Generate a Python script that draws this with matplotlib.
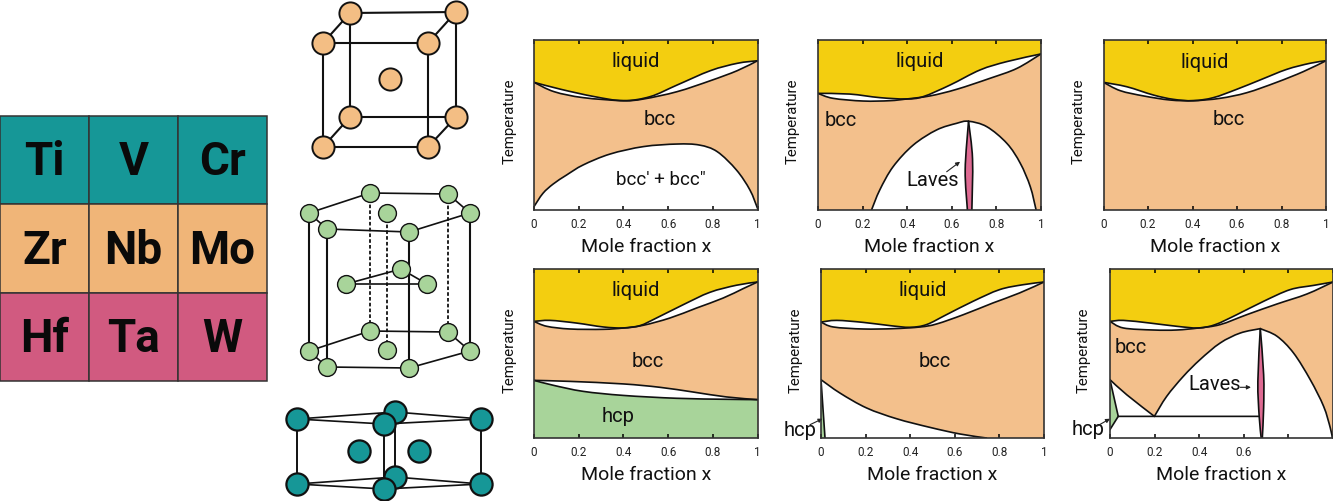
import numpy as np
import matplotlib
matplotlib.use("Agg")
import matplotlib.pyplot as plt
from matplotlib.path import Path
from matplotlib.patches import PathPatch, Rectangle

plt.rcParams['font.family'] = ['Roboto', 'DejaVu Sans']

W, H = 1333, 501
YELLOW = "#F3CE10"
PEACH = "#F3C08C"
GREEN = "#A8D49A"
PINK = "#DE6A92"
TEAL = "#169797"
INK = "#111111"

# periodic table block
elements = [["Ti", "V", "Cr"], ["Zr", "Nb", "Mo"], ["Hf", "Ta", "W"]]
row_colors = ["#169797", "#F0B578", "#D15A80"]

# crystal sketches, picture pixels
bcc_back = [(350, 13), (456, 12), (350, 117), (456, 117)]
bcc_front = [(323, 43), (428, 43), (323, 147), (428, 147)]
bcc_centre = (390, 79)

hcp_top = [(309, 213), (327, 229), (409, 232), (470, 213), (448, 194), (370, 193)]
hcp_bottom = [(309, 351), (327, 367), (409, 368), (470, 351), (448, 332), (370, 331)]
hcp_mid = [(346, 284), (427, 284), (401, 269)]
hcp_inner = [(387, 213), (387, 350)]

teal_top = [(297, 419), (481, 419), (395, 412), (384, 424)]
teal_bottom = [(297, 484), (481, 484), (395, 477), (384, 489)]
teal_inner = [(359, 451), (419, 451)]

tick_vals = [0, 0.2, 0.4, 0.6, 0.8, 1]
tick_text = ["0", "0.2", "0.4", "0.6", "0.8", "1"]
tick_text_last = ["0", "0.2", "0.4", "0.6", "", ""]

# panel 1
liq1_x = [0, .12, .27, .40, .52, .64, .79, .91, 1]
liq1_y = [.751, .710, .667, .643, .667, .735, .820, .863, .878]
sol1_x = [0, .09, .22, .40, .49, .64, .79, .91, 1]
sol1_y = [.751, .696, .661, .643, .653, .696, .761, .820, .878]
gap1_x = [0, .04, .086, .146, .22, .34, .49, .64, .74, .82, .906, .966, 1]
gap1_y = [.02, .098, .153, .206, .265, .329, .373, .388, .382, .343, .235, .118, .01]

# panel 2
liq2_x = [0, .142, .277, .397, .472, .592, .727, .847, 1]
liq2_y = [.686, .682, .661, .653, .667, .735, .824, .873, .918]
sol2_x = [0, .067, .202, .322, .397, .502, .622, .772, .892, 1]
sol2_y = [.686, .657, .641, .643, .653, .671, .710, .775, .833, .918]
dome2_x = [.24, .277, .337, .427, .532, .622, .675, .757, .847, .907, .952, .978]
dome2_y = [0, .118, .255, .382, .471, .51, .522, .49, .392, .275, .137, 0]
laves2_lx = [.675, .66, .67]
laves2_ly = [.522, .235, 0]
laves2_rx = [.675, .693, .69]
laves2_ry = [.522, .3, 0]

# panel 3
liq3_x = [0, .105, .225, .314, .404, .494, .599, .704, .823, .928, 1]
liq3_y = [.751, .725, .676, .651, .643, .661, .71, .765, .827, .863, .878]
sol3_x = [0, .075, .18, .299, .404, .524, .644, .778, .898, 1]
sol3_y = [.751, .702, .671, .647, .643, .657, .690, .751, .814, .878]

# panel 4
liq4_x = [0, .072, .191, .31, .4, .474, .548, .668, .787, .906, 1]
liq4_y = [.69, .696, .68, .657, .651, .665, .71, .789, .862, .904, .923]
sol4_x = [0, .057, .161, .31, .4, .489, .608, .727, .846, .936, 1]
sol4_y = [.69, .661, .645, .643, .651, .667, .71, .769, .828, .884, .923]
hcp4_top_x = [0, .161, .399, .563, .712, .861, 1]
hcp4_top_y = [.341, .335, .32, .3, .272, .243, .227]
hcp4_low_x = [0, .086, .22, .399, .638, .861, 1]
hcp4_low_y = [.341, .312, .276, .252, .235, .229, .227]

# panel 5
liq5_x = [0, .07, .19, .309, .399, .473, .563, .682, .801, .906, 1]
liq5_y = [.686, .696, .684, .665, .655, .671, .73, .809, .878, .907, .923]
sol5_x = [0, .055, .19, .325, .445, .519, .639, .771, .89, 1]
sol5_y = [.686, .657, .645, .647, .657, .675, .73, .799, .858, .923]
low5_x = [0, .085, .204, .339, .488, .622, .742]
low5_y = [.345, .266, .178, .114, .063, .024, 0]
hcp5_x = [0, .018]
hcp5_y = [.345, 0]

# panel 6
liq6_x = [0, .06, .18, .299, .397, .472, .569, .689, .808, .913, 1]
liq6_y = [.690, .696, .680, .661, .651, .671, .730, .809, .878, .903, .923]
sol6_x = [0, .06, .195, .299, .397, .494, .614, .749, .883, 1]
sol6_y = [.690, .651, .639, .639, .651, .671, .730, .793, .852, .923]
left6_x = [.199, .254, .329, .404, .494, .584, .674]
left6_y = [.128, .246, .365, .464, .562, .621, .647]
right6_x = [.674, .749, .823, .898, .958, .988, .997]
right6_y = [.647, .602, .503, .345, .187, .059, 0]
edge6_x = [0, .075, .199]
edge6_y = [.345, .256, .128]
laves6_lx = [.674, .663, .669, .678]
laves6_ly = [.647, .335, .128, 0]
laves6_rx = [.674, .689, .689, .683]
laves6_ry = [.647, .375, .178, 0]
hcp6_x = [0, .037]
hcp6_y = [.345, .128]
hcp6_low_x = [.037, 0]
hcp6_low_y = [.128, .05]
eut6_x = [.037, .674]
eut6_y = [.128, .128]


def add_box(fig, left, top, right, bottom):
    return fig.add_axes([left / W, 1 - bottom / H, (right - left) / W, (bottom - top) / H])


def bezier(xs, ys):
    # smooth curve through the read points, left to matplotlib to render
    p = np.c_[xs, ys]
    q = np.vstack([p[0], p, p[-1]])
    verts = []
    for i in range(1, len(q) - 2):
        verts += [q[i] + (q[i + 1] - q[i - 1]) / 6, q[i + 1] - (q[i + 2] - q[i]) / 6, q[i + 1]]
    return p[0], verts


def make_path(curves, close=True):
    verts, codes = [], []
    for xs, ys in curves:
        start, seg = bezier(xs, ys)
        verts.append(start)
        codes.append(Path.LINETO if verts[:-1] else Path.MOVETO)
        verts += seg
        codes += [Path.CURVE4] * len(seg)
    if close:
        verts.append(verts[0])
        codes.append(Path.CLOSEPOLY)
    return Path(verts, codes)


def fill(ax, curves, color):
    ax.add_patch(PathPatch(make_path(curves), fc=color, ec="none", lw=0))


def line(ax, xs, ys, lw=1.2):
    ax.add_patch(PathPatch(make_path([(xs, ys)], close=False), fc="none", ec=INK, lw=lw,
                           capstyle="round"))


def rev(a):
    return a[::-1]


def panel(fig, box, liq_x, liq_y, sol_x, sol_y, labels=tick_text, ylab_x=-0.078):
    ax = add_box(fig, *box)
    ax.set_facecolor(PEACH)
    ax.set_xlim(0, 1)
    ax.set_ylim(0, 1)
    fill(ax, [(liq_x, liq_y), ([1, 1, 0], [liq_y[-1], 1, 1])], YELLOW)
    fill(ax, [(liq_x, liq_y), (rev(sol_x), rev(sol_y))], "white")
    line(ax, liq_x, liq_y)
    line(ax, sol_x, sol_y)
    ax.set_xticks(tick_vals)
    ax.set_xticklabels(labels, fontsize=8.5, color="#222222")
    ax.set_yticks([])
    ax.tick_params(axis="x", direction="in", top=True, length=3, width=1.1, pad=6)
    ax.set_xlabel("Mole fraction x", fontsize=14, color="#111111", labelpad=5)
    ax.set_ylabel("Temperature", fontsize=10.8, color="#111111")
    ax.yaxis.set_label_coords(ylab_x, 0.52)
    for s in ax.spines.values():
        s.set_linewidth(1.2)
        s.set_color("#333333")
        s.set_zorder(5)
    return ax


def label(ax, x, y, s, size=14.5):
    ax.text(x, y, s, ha="center", va="center", fontsize=size, color=INK, clip_on=False)


def arrow(ax, x0, y0, x1, y1):
    ax.annotate("", xy=(x1, y1), xytext=(x0, y0),
                arrowprops=dict(arrowstyle="-|>", color="#222222", lw=0.8, mutation_scale=6,
                                shrinkA=0, shrinkB=0), annotation_clip=False)


fig = plt.figure(figsize=(W / 100, H / 100), dpi=100, facecolor="white")

# periodic table block
tab = add_box(fig, 0, 116, 267, 381)
tab.set_xlim(0, 3)
tab.set_ylim(3, 0)
tab.axis("off")
for r, row in enumerate(elements):
    for c, name in enumerate(row):
        tab.add_patch(Rectangle((c, r), 1, 1, fc=row_colors[r], ec="#333333", lw=1.1, clip_on=False))
        tab.text(c + 0.5, r + 0.525, name, ha="center", va="center", fontsize=33, fontweight="bold",
                 color="#0a0a0a")

# crystal sketches on a pixel grid
sk = fig.add_axes([0, 0, 1, 1], zorder=3)
sk.set_xlim(0, W)
sk.set_ylim(H, 0)
sk.axis("off")


def seg(a, b, lw=1.5, ls="-"):
    sk.plot([a[0], b[0]], [a[1], b[1]], color=INK, lw=lw, ls=ls, zorder=1)


def atoms(pts, color, size, lw=1.4):
    sk.scatter([p[0] for p in pts], [p[1] for p in pts], s=size, fc=color, ec=INK, lw=lw, zorder=2)


for i, j in [(0, 1), (1, 3), (3, 2), (2, 0)]:
    seg(bcc_back[i], bcc_back[j])
    seg(bcc_front[i], bcc_front[j])
for a, b in zip(bcc_back, bcc_front):
    seg(a, b)
atoms(bcc_back + bcc_front + [bcc_centre], "#F3BE84", 255)

for ring in (hcp_top, hcp_bottom):
    for i in range(6):
        seg(ring[i], ring[(i + 1) % 6], lw=1.2)
for i in range(3):
    seg(hcp_mid[i], hcp_mid[(i + 1) % 3], lw=1.2)
for i in range(4):
    seg(hcp_top[i], hcp_bottom[i], lw=1.5)
for i in (4, 5):
    seg(hcp_top[i], hcp_bottom[i], lw=1.3, ls=(0, (2, 1.2)))
seg(hcp_inner[0], hcp_inner[1], lw=1.3, ls=(0, (2, 1.2)))
atoms(hcp_top + hcp_bottom + hcp_mid + hcp_inner, "#A8D49A", 165, lw=1.0)

for ring in (teal_top, teal_bottom):
    for i, j in [(0, 2), (2, 1), (1, 3), (3, 0)]:
        seg(ring[i], ring[j], lw=1.2)
for a, b in zip(teal_top, teal_bottom):
    seg(a, b, lw=1.4)
atoms(teal_top[:3] + teal_bottom[:3] + teal_inner, TEAL, 255, lw=1.6)
atoms([teal_top[3], teal_bottom[3]], TEAL, 255, lw=1.6)

# panel 1
ax = panel(fig, (534, 40, 757.5, 210), liq1_x, liq1_y, sol1_x, sol1_y)
fill(ax, [(gap1_x, gap1_y), ([1, 0], [0, 0])], "white")
line(ax, gap1_x, gap1_y)
label(ax, .456, .873, "liquid")
label(ax, .563, .533, "bcc")
label(ax, .566, .176, "bcc\u2032 + bcc\u2033", size=13.5)

# panel 2
ax = panel(fig, (818, 40, 1041, 210), liq2_x, liq2_y, sol2_x, sol2_y, ylab_x=-0.08)
fill(ax, [(dome2_x, dome2_y)], "white")
line(ax, dome2_x, dome2_y)
fill(ax, [(laves2_lx, laves2_ly), (rev(laves2_rx), rev(laves2_ry))], PINK)
line(ax, laves2_lx, laves2_ly)
line(ax, laves2_rx, laves2_ry)
label(ax, .457, .873, "liquid")
label(ax, .10, .529, "bcc")
label(ax, .514, .176, "Laves")
arrow(ax, .577, .225, .637, .284)

# panel 3
ax = panel(fig, (1103.5, 40, 1326, 210), liq3_x, liq3_y, sol3_x, sol3_y, ylab_x=-0.079)
label(ax, .457, .869, "liquid")
label(ax, .563, .533, "bcc")

# panel 4
ax = panel(fig, (534, 269, 757.5, 438), liq4_x, liq4_y, sol4_x, sol4_y)
fill(ax, [(hcp4_low_x, hcp4_low_y), ([1, 0], [0, 0])], GREEN)
fill(ax, [(hcp4_top_x, hcp4_top_y), (rev(hcp4_low_x), rev(hcp4_low_y))], "white")
line(ax, hcp4_top_x, hcp4_top_y)
line(ax, hcp4_low_x, hcp4_low_y)
label(ax, .456, .872, "liquid")
label(ax, .51, .454, "bcc")
label(ax, .377, .128, "hcp")

# panel 5
ax = panel(fig, (821, 269, 1044, 438), liq5_x, liq5_y, sol5_x, sol5_y, ylab_x=-0.08)
fill(ax, [(low5_x, low5_y), ([0, 0], [0, .345])], "white")
line(ax, low5_x, low5_y)
fill(ax, [(hcp5_x, hcp5_y), ([0, 0], [0, .345])], GREEN)
line(ax, hcp5_x, hcp5_y)
label(ax, .455, .872, "liquid")
label(ax, .51, .454, "bcc")
label(ax, -.094, .047, "hcp")
arrow(ax, -.049, .079, .007, .114)

# panel 6
ax = panel(fig, (1110, 269, 1333, 438), liq6_x, liq6_y, sol6_x, sol6_y, labels=tick_text_last,
           ylab_x=-0.085)
fill(ax, [(edge6_x, edge6_y), (left6_x, left6_y), (right6_x, right6_y), ([1, 0], [0, 0])], "white")
line(ax, edge6_x, edge6_y)
line(ax, left6_x, left6_y)
line(ax, right6_x, right6_y)
line(ax, eut6_x, eut6_y)
fill(ax, [(hcp6_x, hcp6_y), (hcp6_low_x, hcp6_low_y)], GREEN)
line(ax, hcp6_x, hcp6_y)
line(ax, hcp6_low_x, hcp6_low_y)
fill(ax, [(laves6_lx, laves6_ly), (rev(laves6_rx), rev(laves6_ry))], PINK)
line(ax, laves6_lx, laves6_ly)
line(ax, laves6_rx, laves6_ry)
label(ax, .094, .536, "bcc")
label(ax, .469, .316, "Laves")
arrow(ax, .584, .3, .632, .3)
label(ax, -.097, .049, "hcp")
arrow(ax, -.06, .069, .0, .114)

fig.savefig("out.png", dpi=100)
